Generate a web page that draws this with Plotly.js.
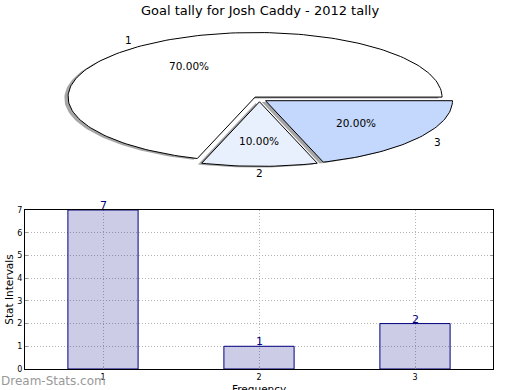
<!DOCTYPE html>
<html>
<head>
<meta charset="utf-8">
<script src="https://cdn.plot.ly/plotly-3.0.1.min.js"></script>
<style>html,body{margin:0;padding:0;background:#fff;}#chart{width:520px;height:390px;}</style>
</head>
<body>
<div id="chart"></div>
<script>
// ---- data ----
const chartTitle = 'Goal tally for Josh Caddy - 2012 tally';
const xAxisTitle = 'Frequency';
const yAxisTitle = 'Stat Intervals';
const pieLabels = ['1', '2', '3'];
const pieValues = [7, 1, 2];
const barCategories = ['1', '2', '3'];
const barValues = [7, 1, 2];
const yTickValues = [0, 1, 2, 3, 4, 5, 6, 7];

// ---- styles ----
const sliceColors = ['#ffffff', '#e9f0fd', '#c4d8fd'];
const EXPLODE = 0.04;
const SHADOW = -0.02;
const FONT = 'DejaVu Sans, sans-serif';

const traces = [];
const annotations = [];
const total = pieValues.reduce((a, b) => a + b, 0);
let cum = 0;
pieValues.forEach((v, i) => {
  const frac = v / total;
  const t1 = cum * 2 * Math.PI, t2 = (cum + frac) * 2 * Math.PI;
  cum += frac;
  const mid = (t1 + t2) / 2;
  const dx = EXPLODE * Math.cos(mid), dy = EXPLODE * Math.sin(mid);
  const n = Math.max(4, Math.ceil(frac * 240));
  const xs = [dx], ys = [dy];
  for (let k = 0; k <= n; k++) {
    const th = t1 + (t2 - t1) * k / n;
    xs.push(dx + Math.cos(th));
    ys.push(dy + Math.sin(th));
  }
  xs.push(dx); ys.push(dy);
  traces.push({
    type: 'scatter', mode: 'lines', xaxis: 'x2', yaxis: 'y2',
    x: xs.map(p => p + SHADOW), y: ys.map(p => p + SHADOW),
    fill: 'toself', fillcolor: 'rgba(77,77,77,0.5)', line: {width: 0},
    hoverinfo: 'skip', showlegend: false
  });
  traces.push({
    type: 'scatter', mode: 'lines', xaxis: 'x2', yaxis: 'y2',
    x: xs, y: ys, fill: 'toself', fillcolor: sliceColors[i],
    line: {color: '#000000', width: 1}, hoverinfo: 'skip', showlegend: false
  });
  const c = Math.cos(mid), s = Math.sin(mid);
  annotations.push({
    xref: 'x2', yref: 'y2', x: dx + 1.1 * c, y: dy + 1.1 * s,
    text: pieLabels[i], showarrow: false,
    xanchor: Math.abs(c) < 1e-6 ? 'center' : (c > 0 ? 'left' : 'right'),
    yanchor: 'middle', font: {family: FONT, size: 10.5, color: '#000'}
  });
  annotations.push({
    xref: 'x2', yref: 'y2', x: dx + 0.6 * c, y: dy + 0.6 * s,
    text: (frac * 100).toFixed(2) + '%', showarrow: false,
    xanchor: 'center', yanchor: 'middle', font: {family: FONT, size: 10.5, color: '#000'}
  });
});

traces.push({
  type: 'bar', x: barCategories, y: barValues, xaxis: 'x', yaxis: 'y',
  width: 0.45,
  marker: {color: 'rgba(0,0,128,0.2)', line: {color: '#000080', width: 1}},
  hoverinfo: 'skip', showlegend: false
});
barCategories.forEach((cat, i) => {
  annotations.push({
    xref: 'x', yref: 'y', x: i, y: barValues[i], text: String(barValues[i]),
    showarrow: false, xanchor: 'center', yanchor: 'bottom', yshift: -4,
    font: {family: FONT, size: 11, color: '#000080'}
  });
});

// x-axis title placed just below the tick labels
annotations.push({
  xref: 'paper', yref: 'paper', x: 0.5, y: -0.035, xanchor: 'center', yanchor: 'top',
  text: xAxisTitle, showarrow: false, borderpad: 0,
  font: {family: FONT, size: 10.5, color: '#000'}
});

annotations.push({
  xref: 'paper', yref: 'paper', x: -0.0534, y: -0.011, xanchor: 'left', yanchor: 'top',
  text: 'Dream-Stats.com', showarrow: false, borderpad: 0,
  font: {family: FONT, size: 12, color: '#999999'}
});

const layout = {
  width: 520, height: 390,
  margin: {l: 25, r: 27, t: 0, b: 21, pad: 0},
  paper_bgcolor: '#ffffff', plot_bgcolor: 'rgba(0,0,0,0)',
  font: {family: FONT, size: 8, color: '#000'},
  title: {text: chartTitle, x: 0.5, xref: 'container', y: 0.974, yref: 'container',
          yanchor: 'middle', font: {family: FONT, size: 13, color: '#000'}},
  showlegend: false,
  bargap: 0,
  xaxis: {
    domain: [0, 1], type: 'category', range: [-0.5, 2.5],
    showline: true, mirror: true, linecolor: '#000', linewidth: 1,
    showgrid: true, gridcolor: '#b4b4b4', griddash: '1px,2px', gridwidth: 1,
    ticks: 'inside', ticklen: 3, tickcolor: '#999', zeroline: false,
    tickfont: {family: FONT, size: 8, color: '#000'},
    automargin: false, fixedrange: true
  },
  yaxis: {
    domain: [0, 0.4309], range: [0, 7], tickvals: yTickValues,
    showline: true, mirror: 'ticks', linecolor: '#000', linewidth: 1,
    showgrid: true, gridcolor: '#b4b4b4', griddash: '1px,2px', gridwidth: 1,
    ticks: 'inside', ticklen: 3, tickcolor: '#999', zeroline: false,
    tickfont: {family: FONT, size: 8, color: '#000'},
    title: {text: yAxisTitle, standoff: 1, font: {family: FONT, size: 10.5, color: '#000'}},
    automargin: false, fixedrange: true
  },
  xaxis2: {domain: [0, 1], anchor: 'y2', range: [-1.254, 1.249], visible: false, fixedrange: true},
  yaxis2: {domain: [0.4851, 0.9458], anchor: 'x2', range: [-1.406, 1.226], visible: false, fixedrange: true},
  annotations: annotations
};

Plotly.newPlot('chart', traces, layout, {staticPlot: true, displayModeBar: false});
</script>
</body>
</html>
